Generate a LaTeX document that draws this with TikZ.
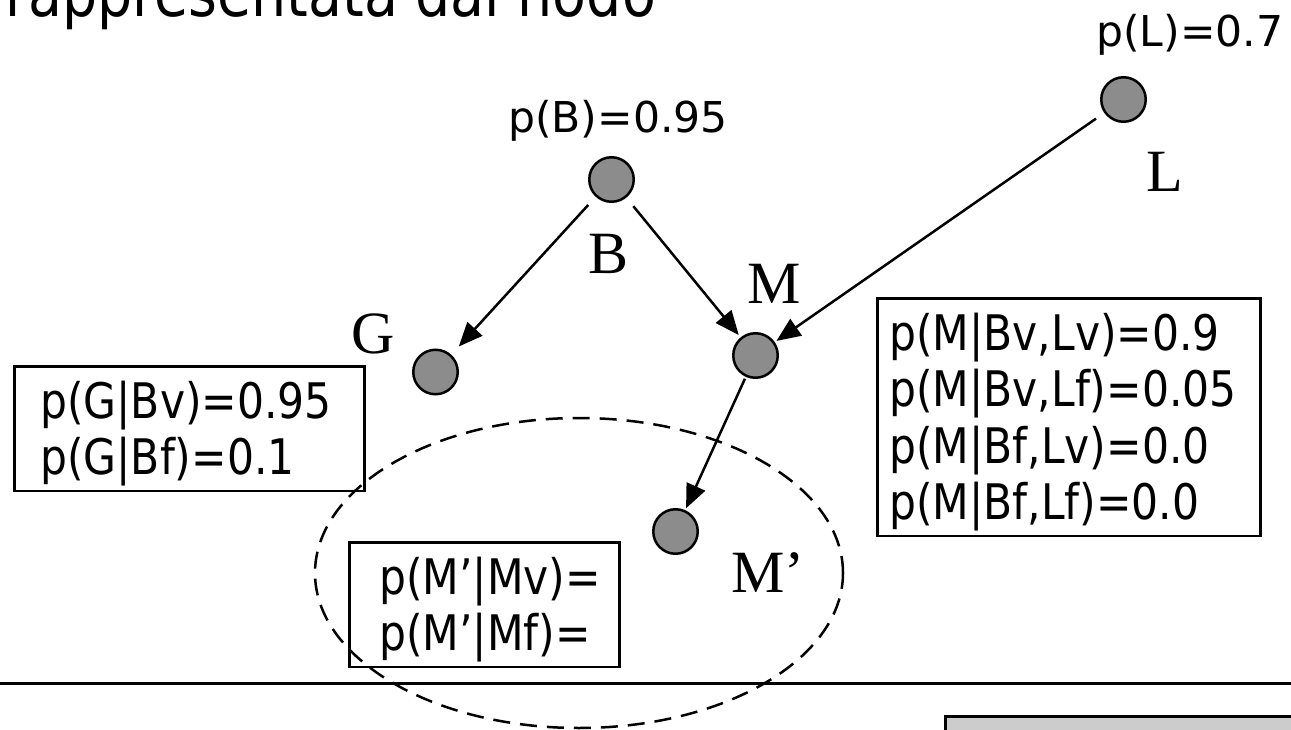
\documentclass[tikz,border=0pt]{standalone}
\usepackage{fontspec}
\setmainfont{DejaVu Sans}
\newfontfamily\narrowsans{DejaVu Sans}[FakeStretch=0.866]
\newfontfamily\serifletter{Liberation Serif}
\usetikzlibrary{arrows.meta}

\definecolor{nodegray}{RGB}{140,140,140}
\definecolor{panelgray}{RGB}{204,204,204}

\tikzset{
    var/.style={circle, draw, line width=2.5pt, fill=nodegray, minimum size=44.5pt, inner sep=0pt},
    link/.style={-{Triangle[length=24pt,width=20pt]}, line width=2.5pt},
    varname/.style={anchor=base west, inner sep=0pt, font=\serifletter\fontsize{60}{60}\selectfont},
    prior/.style={anchor=base west, inner sep=0pt, font=\fontsize{42.5}{42.5}\selectfont},
    cpt/.style={draw, line width=2.5pt, anchor=north west, align=left, inner ysep=0pt,
        font=\narrowsans\fontsize{49}{56.5}\selectfont},
}

\begin{document}
\begin{tikzpicture}[x=1pt, y=-1pt]
    \useasboundingbox (0,0) rectangle (1291,730);
    \clip (0,0) rectangle (1291,730);

    \node [anchor=base west, inner sep=0pt, font=\narrowsans\fontsize{64}{64}\selectfont] (title) at (5.5,17) {rappresentata dal nodo};

    % rete
    \node [var] (B) at (611.5,179.5) {};
    \node [var] (G) at (435.5,372) {};
    \node [var] (M) at (755.5,355.5) {};
    \node [var] (Mp) at (675.5,531.5) {};
    \node [var] (L) at (1123.5,99.5) {};

    \node [varname] (nameB) at (588,273) {B};
    \node [varname] (nameM) at (747,303) {M};
    \node [varname] (nameG) at (351,353) {G};
    \node [varname] (nameL) at (1146,192) {L};
    \node [varname] (nameMp) at (731,592) {M’};

    \node [prior] (priorB) at (508,133) {p(B)=0.95};
    \node [prior] (priorL) at (1096,47) {p(L)=0.7};

    \draw [link, shorten <=11pt, shorten >=11pt] (B) -- (G);
    \draw [link, shorten <=11pt, shorten >=3pt] (B) -- (M);
    \draw [link, shorten <=10pt, shorten >=2pt] (L) -- (M);
    \draw [link, shorten <=2pt, shorten >=2pt] (M) -- (Mp);

    % tabelle
    \node [cpt, inner xsep=26pt, text width=298pt] (cptG) at (13,365)
        {\rule{0pt}{52pt}p(G|Bv)=0.95\\ p(G|Bf)=0.1\rule[-16pt]{0pt}{16pt}};
    \node [cpt, inner xsep=12pt, text width=359pt] (cptM) at (876,297)
        {\rule{0pt}{52pt}p(M|Bv,Lv)=0.9\\ p(M|Bv,Lf)=0.05\\ p(M|Bf,Lv)=0.0\\ p(M|Bf,Lf)=0.0\rule[-16pt]{0pt}{16pt}};
    \node [cpt, inner xsep=30pt, text width=210pt] (cptMp) at (348,541)
        {\rule{0pt}{52pt}p(M’|Mv)=\\ p(M’|Mf)=\rule[-16pt]{0pt}{16pt}};

    \draw [dash pattern=on 17pt off 10pt, line width=2.5pt] (579,573) ellipse [x radius=264pt, y radius=155pt];

    \draw [line width=3pt] (0,683) -- (1291,683);
    \draw [line width=3pt, fill=panelgray] (945,716) rectangle (1300,740);
\end{tikzpicture}
\end{document}
